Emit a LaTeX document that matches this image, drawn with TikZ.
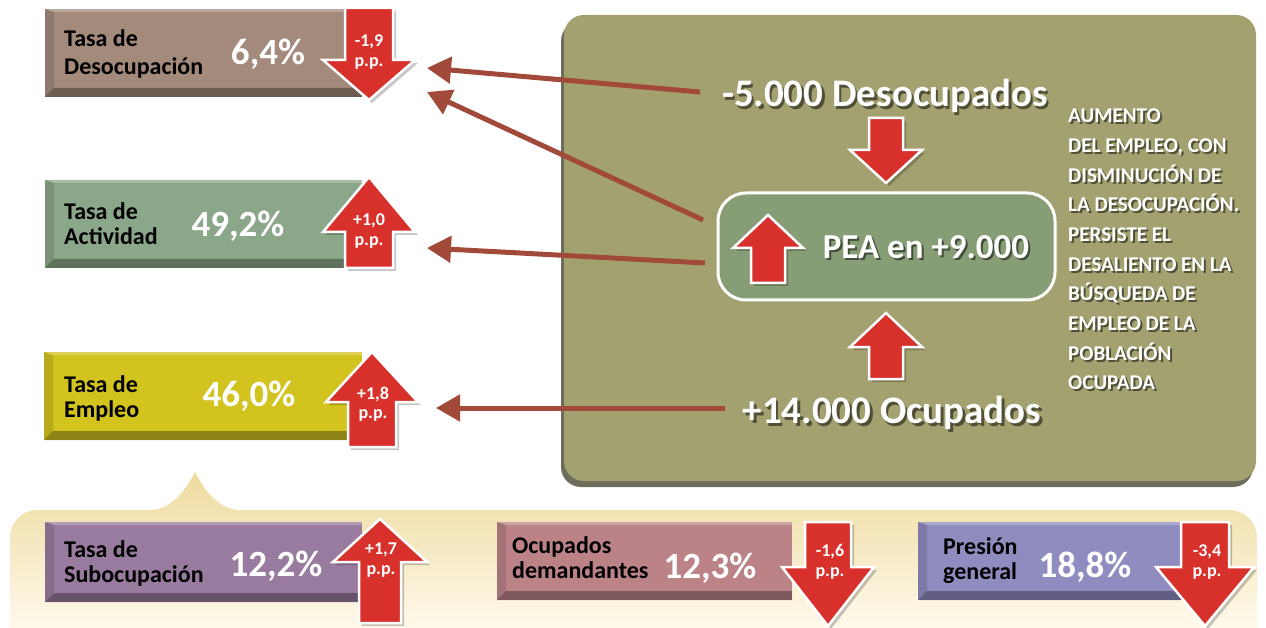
\documentclass[tikz,border=0pt]{standalone}
\usepackage{fontspec}
\setmainfont{Carlito}
\usetikzlibrary{arrows.meta,shadows}
\definecolor{cDes}{HTML}{A38A7B}
\definecolor{cAct}{HTML}{8BA789}
\definecolor{cEmp}{HTML}{D2C31F}
\definecolor{cSub}{HTML}{9A7BA0}
\definecolor{cDem}{HTML}{BB8388}
\definecolor{cPre}{HTML}{8F8CC0}
\definecolor{cRed}{HTML}{D8312B}
\definecolor{cOlive}{HTML}{A4A170}
\definecolor{cOliveDk}{HTML}{6E6D5C}
\definecolor{cPEA}{HTML}{879D75}
\definecolor{cLink}{HTML}{A24A3A}
\definecolor{cBandTop}{HTML}{EEDB9E}
\definecolor{cBandBot}{HTML}{FFFAEE}
\tikzset{
  ratebox/.style={rectangle, inner sep=0pt, minimum height=88pt, path picture={
    \fill[black,opacity=.32] (path picture bounding box.south west) -- ++(9,-9)
      -- ([yshift=9pt]path picture bounding box.south east) -- (path picture bounding box.south east) -- cycle;
    \fill[black,opacity=.12] (path picture bounding box.south west) -- ++(9,-9)
      -- ([xshift=9pt,yshift=-3pt]path picture bounding box.north west) -- (path picture bounding box.north west) -- cycle;
    \fill[white,opacity=.25] (path picture bounding box.north west) -- ([xshift=9pt,yshift=-3pt]path picture bounding box.north west)
      -- ([yshift=-3pt]path picture bounding box.north east) -- (path picture bounding box.north east) -- cycle;
  }},
  lab/.style={anchor=west, align=left, inner sep=0pt, font=\fontsize{24}{25}\selectfont\bfseries},
  val/.style={text=white, inner sep=0pt, font=\fontsize{37}{40}\selectfont\bfseries},
  pp/.style={text=white, align=center, inner sep=0pt, font=\fontsize{18}{19.5}\selectfont\bfseries},
  redarr/.style={fill=cRed, draw=white, line width=2.5pt, line join=miter},
  panel/.style={rectangle, rounded corners=20pt, fill=cOlive, inner sep=0pt,
    drop shadow={shadow xshift=-3pt, shadow yshift=-6pt, fill=cOliveDk, opacity=1}},
  peabox/.style={rectangle, rounded corners=28pt, fill=cPEA, draw=white, line width=3pt, inner sep=0pt},
  bigtxt/.style={text=white, inner sep=0pt, font=\fontsize{39}{42}\selectfont\bfseries},
  peatxt/.style={text=white, inner sep=0pt, font=\fontsize{35}{38}\selectfont\bfseries},
  sidetxt/.style={text=white, anchor=west, align=left, inner sep=0pt, font=\fontsize{21}{29.7}\selectfont\bfseries},
  txtshadow/.style={text=black, text opacity=.5},
  link/.style={draw=cLink, line width=5pt, -{Triangle[length=24pt,width=26pt]}}
}
% block arrow: cx, y shaft end, y head base, y tip, half head width, half shaft width
\newcommand\blockarr[6]{%
  \fill[black,opacity=.22] ({#1-#6+3},{#2+3}) -- ({#1-#6+3},{#3+3}) -- ({#1-#5+3},{#3+3}) -- ({#1+3},{#4+3})
     -- ({#1+#5+3},{#3+3}) -- ({#1+#6+3},{#3+3}) -- ({#1+#6+3},{#2+3}) -- cycle;
  \draw[redarr] ({#1-#6},#2) -- ({#1-#6},#3) -- ({#1-#5},#3) -- (#1,#4) -- ({#1+#5},#3) -- ({#1+#6},#3) -- ({#1+#6},#2) -- cycle;}
\begin{document}
\begin{tikzpicture}[x=1pt,y=-1pt]
\useasboundingbox (0,0) rectangle (1266,628);
\fill[white] (0,0) rectangle (1266,628);

% bottom band with pointer
\shade[top color=cBandTop, bottom color=cBandBot] (10,632) -- (10,538) .. controls (10,522) and (22,510) .. (38,510)
  -- (150,510) .. controls (170,510) and (185,492) .. (195,472) .. controls (205,492) and (220,510) .. (240,510)
  -- (1229,510) .. controls (1245,510) and (1257,522) .. (1257,538) -- (1257,632) -- cycle;

% big panel
\node[panel, minimum width=692pt, minimum height=466pt] (pan) at (910,248) {};

% rate boxes
\node[ratebox, fill=cDes, minimum width=317pt] (b1) at (203.5,53) {};
\node[ratebox, fill=cAct, minimum width=317pt] (b2) at (203.5,224) {};
\node[ratebox, fill=cEmp, minimum width=318pt] (b3) at (203,396) {};
\node[ratebox, fill=cSub, minimum width=317pt, minimum height=80pt] (b4) at (203.5,562) {};
\node[ratebox, fill=cDem, minimum width=295pt, minimum height=78pt] (b5) at (644.5,561) {};
\node[ratebox, fill=cPre, minimum width=274pt, minimum height=78pt] (b6) at (1055,561) {};

\node[lab, font=\fontsize{24}{28}\selectfont\bfseries] (l1) at (64,54) {Tasa de\\Desocupación};
\node[lab] (l2) at (64,224) {Tasa de\\Actividad};
\node[lab] (l3) at (64,398) {Tasa de\\Empleo};
\node[lab] (l4) at (64,563) {Tasa de\\Subocupación};
\node[lab] (l5) at (512,558) {Ocupados\\demandantes};
\node[lab] (l6) at (943,561) {Presión\\general};

\node[val] (v1) at (268,54) {6,4\%};
\node[val] (v2) at (238,226) {49,2\%};
\node[val] (v3) at (249,396) {46,0\%};
\node[val] (v4) at (276,566) {12,2\%};
\node[val] (v5) at (710,568) {12,3\%};
\node[val] (v6) at (1085,567) {18,8\%};

% red arrows on boxes
\blockarr{369}{8}{60}{100}{46}{24}
\blockarr{369}{268}{232}{177}{46}{24}
\blockarr{372}{447}{402}{352}{46}{24}
\blockarr{380}{623}{562}{519}{47}{21}
\blockarr{828}{522}{567}{626}{46}{23}
\blockarr{1205}{522}{567}{626}{49}{24}
\node[pp] (a1) at (369,52) {-1,9\\p.p.};
\node[pp] (a2) at (369,231) {+1,0\\p.p.};
\node[pp] (a3) at (373,404) {+1,8\\p.p.};
\node[pp] (a4) at (381,560) {+1,7\\p.p.};
\node[pp] (a5) at (830,562) {-1,6\\p.p.};
\node[pp] (a6) at (1207,562) {-3,4\\p.p.};

% panel contents
\node[peabox, minimum width=337pt, minimum height=107pt] (pea) at (886.5,246.5) {};
\blockarr{886}{118}{150}{183}{36}{17}
\blockarr{886}{379}{347}{313}{36}{17}
\blockarr{768}{283}{248}{215}{35}{17}

\node[bigtxt, txtshadow] (dessh) at (887.5,98.5) {-5.000 Desocupados};
\node[bigtxt] (des) at (885,96) {-5.000 Desocupados};
\node[bigtxt, txtshadow] (ocush) at (894.5,415.5) {+14.000 Ocupados};
\node[bigtxt] (ocu) at (892,413) {+14.000 Ocupados};
\node[peatxt, txtshadow] (peash) at (928,249) {PEA en +9.000};
\node[peatxt] (peat) at (926,247) {PEA en +9.000};
\node[sidetxt, txtshadow] (sidesh) at (1070,251.5) {AUMENTO\\DEL EMPLEO, CON\\DISMINUCIÓN DE\\LA DESOCUPACIÓN.\\PERSISTE EL\\DESALIENTO EN LA\\BÚSQUEDA DE\\EMPLEO DE LA\\POBLACIÓN\\OCUPADA};
\node[sidetxt] (side) at (1068,249.5) {AUMENTO\\DEL EMPLEO, CON\\DISMINUCIÓN DE\\LA DESOCUPACIÓN.\\PERSISTE EL\\DESALIENTO EN LA\\BÚSQUEDA DE\\EMPLEO DE LA\\POBLACIÓN\\OCUPADA};

% connectors
\coordinate (s1) at (700,92);  \coordinate (e1) at (427,68);
\coordinate (s2) at (703,220); \coordinate (e2) at (427,92);
\coordinate (s3) at (705,263); \coordinate (e3) at (427,248);
\coordinate (s4) at (725,408); \coordinate (e4) at (436,408);
\draw[link] (s1) -- (e1);
\draw[link] (s2) -- (e2);
\draw[link] (s3) -- (e3);
\draw[link] (s4) -- (e4);
\end{tikzpicture}
\end{document}
